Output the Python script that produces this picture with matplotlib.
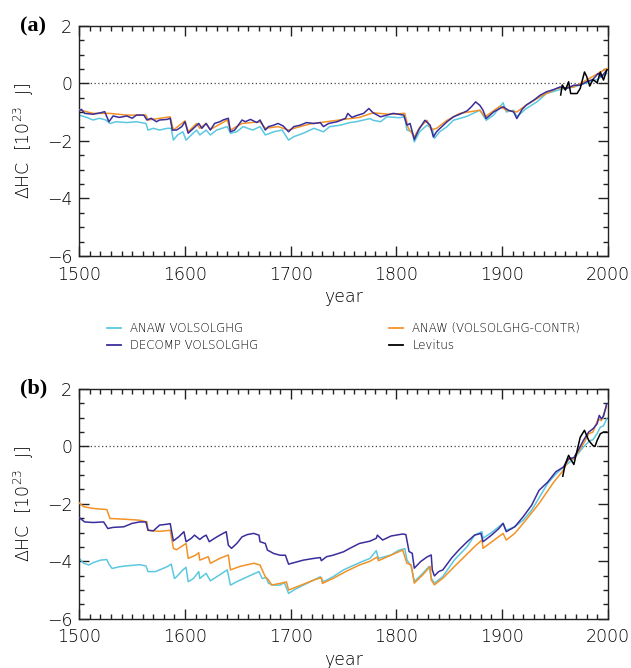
import numpy as np
import matplotlib
matplotlib.use('Agg')
import matplotlib.pyplot as plt
from matplotlib.ticker import MultipleLocator
from matplotlib.lines import Line2D

# ─── data (year, ΔHC in 1e23 J) ─────────────────────────────────────────────
# panel (a)
a_cyan_year = [1500, 1507, 1513, 1519, 1525, 1529, 1535, 1545, 1554, 1563, 1565, 1570, 1576, 1583,
               1587, 1589, 1593, 1598, 1601, 1606, 1611, 1614, 1620, 1624, 1630, 1640, 1643, 1649,
               1655, 1664, 1671, 1676, 1684, 1692, 1698, 1703, 1712, 1722, 1731, 1737, 1747, 1756,
               1762, 1768, 1775, 1778, 1785, 1791, 1803, 1808, 1810, 1815, 1817, 1822, 1829, 1834,
               1836, 1841, 1848, 1854, 1867, 1879, 1885, 1892, 1901, 1904, 1911, 1914, 1923, 1933,
               1942, 1955, 1968, 1980, 1990, 1999]
a_cyan_val = [-1.10, -1.18, -1.27, -1.21, -1.27, -1.39, -1.33, -1.36, -1.33, -1.39, -1.62, -1.56, -1.62, -1.56,
              -1.56, -1.97, -1.79, -1.68, -1.97, -1.79, -1.62, -1.79, -1.62, -1.79, -1.62, -1.50, -1.73, -1.68,
              -1.50, -1.62, -1.50, -1.79, -1.68, -1.62, -1.97, -1.85, -1.73, -1.56, -1.68, -1.50, -1.45, -1.36,
              -1.33, -1.28, -1.22, -1.28, -1.33, -1.16, -1.19, -1.16, -1.62, -1.68, -2.03, -1.68, -1.45, -1.57,
              -1.91, -1.68, -1.50, -1.28, -1.14, -0.93, -1.28, -1.10, -0.67, -0.99, -0.93, -1.16, -0.87, -0.64,
              -0.35, -0.21, -0.12, 0.02, 0.14, 0.35]

a_blue_year = [1500, 1502, 1505, 1513, 1520, 1524, 1528, 1532, 1538, 1545, 1550, 1554, 1561, 1564, 1568,
               1573, 1576, 1583, 1586, 1588, 1592, 1597, 1600, 1603, 1608, 1613, 1616, 1620, 1624, 1628,
               1633, 1636, 1641, 1643, 1647, 1654, 1657, 1662, 1668, 1671, 1676, 1679, 1684, 1688, 1693,
               1698, 1703, 1709, 1715, 1722, 1728, 1731, 1736, 1744, 1752, 1754, 1758, 1762, 1769, 1774,
               1778, 1785, 1791, 1797, 1807, 1810, 1813, 1817, 1821, 1827, 1832, 1835, 1838, 1841, 1848,
               1854, 1860, 1867, 1871, 1875, 1879, 1882, 1885, 1892, 1898, 1901, 1906, 1911, 1914, 1919,
               1923, 1930, 1936, 1942, 1949, 1955, 1961, 1968, 1974, 1980, 1986, 1991, 1994, 1999]
a_blue_val = [-0.95, -0.90, -1.04, -1.07, -1.02, -0.98, -1.33, -1.13, -1.18, -1.13, -1.21, -1.10, -1.10, -1.27, -1.21,
              -1.33, -1.27, -1.25, -1.21, -1.62, -1.62, -1.50, -1.33, -1.73, -1.56, -1.39, -1.56, -1.39, -1.62, -1.39,
              -1.33, -1.27, -1.21, -1.68, -1.62, -1.27, -1.33, -1.25, -1.36, -1.27, -1.62, -1.50, -1.45, -1.39, -1.48,
              -1.68, -1.50, -1.45, -1.36, -1.39, -1.36, -1.50, -1.39, -1.33, -1.21, -1.04, -1.18, -1.12, -1.04, -0.87,
              -1.02, -1.16, -1.10, -1.04, -1.10, -1.45, -1.39, -1.95, -1.62, -1.28, -1.45, -1.86, -1.68, -1.57, -1.33,
              -1.16, -1.07, -0.95, -0.81, -0.64, -0.76, -0.93, -1.22, -0.99, -0.87, -0.81, -0.93, -0.99, -1.22, -0.90,
              -0.75, -0.58, -0.41, -0.29, -0.21, -0.12, -0.17, -0.06, -0.06, 0.06, 0.14, 0.35, 0.23, 0.46]

a_orange_year = [1500, 1513, 1529, 1545, 1563, 1565, 1586, 1589, 1600, 1603, 1611, 1614, 1620, 1624, 1640,
                 1643, 1654, 1671, 1676, 1688, 1698, 1703, 1718, 1734, 1750, 1765, 1778, 1793, 1808, 1811,
                 1817, 1822, 1829, 1833, 1838, 1848, 1860, 1879, 1884, 1898, 1904, 1914, 1923, 1936, 1952,
                 1968, 1980, 1999]
a_orange_val = [-0.92, -1.04, -1.04, -1.10, -1.10, -1.27, -1.16, -1.62, -1.30, -1.68, -1.39, -1.56, -1.39, -1.60, -1.27,
                -1.62, -1.39, -1.33, -1.56, -1.50, -1.62, -1.56, -1.41, -1.33, -1.25, -1.18, -1.02, -1.07, -1.04, -1.53,
                -1.86, -1.53, -1.28, -1.62, -1.56, -1.28, -1.04, -0.93, -1.16, -0.79, -0.93, -0.99, -0.75, -0.46, -0.17,
                -0.12, 0.12, 0.52]

a_lev_year = [1955.5, 1957, 1960, 1963, 1965, 1971, 1974, 1978, 1980, 1983, 1986, 1990, 1993, 1996, 1999]
a_lev_val = [-0.40, -0.05, -0.23, 0.06, -0.35, -0.35, -0.17, 0.40, 0.25, -0.09, 0.14, 0.02, 0.40, 0.12, 0.46]

# panel (b)
b_blue_year = [1500, 1505, 1513, 1523, 1527, 1532, 1542, 1550, 1557, 1563, 1565, 1570, 1576, 1583, 1586,
               1589, 1594, 1599, 1601, 1606, 1609, 1614, 1617, 1620, 1623, 1628, 1633, 1639, 1641, 1644,
               1649, 1654, 1659, 1665, 1670, 1671, 1676, 1678, 1684, 1690, 1695, 1698, 1703, 1712, 1722,
               1728, 1729, 1734, 1740, 1750, 1756, 1765, 1775, 1781, 1782, 1787, 1795, 1806, 1809, 1812,
               1815, 1817, 1823, 1829, 1833, 1834, 1836, 1840, 1844, 1852, 1859, 1867, 1874, 1880, 1882,
               1890, 1897, 1901, 1904, 1912, 1920, 1928, 1935, 1943, 1951, 1958, 1963, 1968, 1972, 1977,
               1982, 1986, 1990, 1992, 1994, 1996, 1999]
b_blue_val = [-2.48, -2.63, -2.65, -2.63, -2.86, -2.82, -2.80, -2.68, -2.63, -2.63, -2.92, -2.94, -2.74, -2.71, -2.69,
              -3.29, -3.15, -2.97, -3.32, -3.20, -3.09, -3.24, -3.15, -3.09, -3.32, -3.20, -3.09, -2.97, -3.44, -3.55,
              -3.38, -3.15, -3.07, -3.03, -3.09, -3.32, -3.38, -3.61, -3.73, -3.79, -3.79, -4.10, -4.05, -3.96, -3.90,
              -3.87, -3.98, -3.84, -3.79, -3.67, -3.55, -3.38, -3.30, -3.20, -3.09, -3.26, -3.12, -3.05, -3.07, -3.66,
              -3.72, -4.24, -4.01, -3.85, -3.78, -4.30, -4.51, -4.36, -4.30, -3.90, -3.61, -3.32, -3.09, -3.03, -3.32,
              -3.09, -2.86, -2.68, -2.97, -2.80, -2.45, -2.05, -1.53, -1.25, -0.88, -0.72, -0.43, -0.39, -0.14, 0.21,
              0.50, 0.61, 0.79, 1.08, 0.96, 1.05, 1.48]

b_cyan_year = [1500, 1504, 1509, 1513, 1520, 1526, 1528, 1531, 1538, 1545, 1557, 1563, 1565, 1572, 1576,
               1583, 1587, 1590, 1592, 1598, 1601, 1603, 1608, 1613, 1614, 1620, 1624, 1630, 1640, 1643,
               1649, 1659, 1670, 1673, 1677, 1679, 1684, 1690, 1694, 1698, 1703, 1712, 1722, 1728, 1731,
               1740, 1750, 1759, 1765, 1775, 1781, 1783, 1795, 1802, 1808, 1810, 1814, 1817, 1825, 1831,
               1833, 1836, 1844, 1855, 1867, 1874, 1881, 1882, 1890, 1901, 1904, 1912, 1920, 1928, 1936,
               1943, 1950, 1958, 1968, 1977, 1983, 1986, 1990, 1993, 1996, 1999]
b_cyan_val = [-3.90, -4.07, -4.13, -4.05, -3.96, -3.94, -4.10, -4.25, -4.19, -4.16, -4.12, -4.16, -4.36, -4.36, -4.30,
              -4.19, -4.10, -4.60, -4.54, -4.30, -4.21, -4.71, -4.60, -4.36, -4.60, -4.42, -4.68, -4.54, -4.30, -4.83,
              -4.71, -4.54, -4.36, -4.60, -4.57, -4.77, -4.83, -4.83, -4.74, -5.12, -5.00, -4.83, -4.65, -4.54, -4.71,
              -4.54, -4.30, -4.15, -4.05, -3.90, -3.63, -3.90, -3.78, -3.62, -3.56, -3.95, -4.18, -4.71, -4.42, -4.18,
              -4.59, -4.76, -4.53, -3.95, -3.49, -3.09, -2.97, -3.20, -3.00, -2.68, -2.92, -2.80, -2.57, -2.22, -1.73,
              -1.30, -1.00, -0.72, -0.43, -0.02, 0.20, 0.23, 0.45, 0.67, 0.72, 0.96]

b_orange_year = [1500, 1504, 1513, 1526, 1529, 1545, 1557, 1564, 1565, 1576, 1586, 1589, 1592, 1601, 1603,
                 1610, 1613, 1614, 1622, 1624, 1633, 1641, 1643, 1652, 1665, 1671, 1673, 1676, 1679, 1682,
                 1690, 1696, 1698, 1710, 1722, 1729, 1730, 1740, 1752, 1765, 1775, 1782, 1783, 1806, 1810,
                 1814, 1817, 1825, 1832, 1833, 1836, 1844, 1855, 1874, 1881, 1882, 1901, 1904, 1912, 1920,
                 1935, 1949, 1958, 1963, 1968, 1977, 1982, 1986, 1991, 1994, 1999]
b_orange_val = [-1.97, -2.10, -2.16, -2.20, -2.51, -2.54, -2.57, -2.63, -2.92, -2.96, -2.92, -3.55, -3.60, -3.38, -3.90,
                -3.79, -3.70, -3.96, -3.84, -4.07, -3.90, -3.78, -4.30, -4.18, -4.07, -4.13, -4.30, -4.54, -4.65, -4.83,
                -4.77, -4.72, -5.00, -4.83, -4.65, -4.57, -4.77, -4.60, -4.36, -4.13, -4.00, -3.85, -3.98, -3.61, -4.07,
                -4.12, -4.76, -4.47, -4.18, -4.65, -4.82, -4.59, -4.18, -3.49, -3.26, -3.55, -3.03, -3.26, -3.03, -2.68,
                -1.99, -1.24, -0.83, -0.45, -0.43, 0.09, 0.44, 0.50, 0.96, 0.90, 1.40]

b_lev_year = [1957.5, 1959, 1960, 1963, 1965, 1968, 1970, 1974, 1978, 1982, 1986, 1988, 1990, 1993, 1996, 1999]
b_lev_val = [-1.04, -0.75, -0.60, -0.31, -0.45, -0.63, -0.30, 0.32, 0.56, 0.21, 0.03, 0.00, 0.21, 0.44, 0.50, 0.50]

labels = ['ANAW VOLSOLGHG', 'DECOMP VOLSOLGHG', 'ANAW (VOLSOLGHG-CONTR)', 'Levitus']
colors = ['#5cc8e0', '#3a2e9c', '#f39225', 'black']

# ─── figure ─────────────────────────────────────────────────────────────────
plt.rcParams['font.family'] = ['DejaVu Sans']
plt.rcParams['font.weight'] = 'light'
plt.rcParams['axes.labelweight'] = 'light'
plt.rcParams['mathtext.fontset'] = 'custom'
plt.rcParams['mathtext.rm'] = 'DejaVu Sans:light'
plt.rcParams['mathtext.it'] = 'DejaVu Sans:light'
fig = plt.figure(figsize=(6.31, 6.68), dpi=100)
ax_a = fig.add_axes([0.1257, 0.6168, 0.8374, 0.3443])
ax_b = fig.add_axes([0.1257, 0.0738, 0.8374, 0.3439])

panels = [
    (ax_a, '(a)', a_cyan_year, a_cyan_val, a_blue_year, a_blue_val,
     a_orange_year, a_orange_val, a_lev_year, a_lev_val),
    (ax_b, '(b)', b_cyan_year, b_cyan_val, b_blue_year, b_blue_val,
     b_orange_year, b_orange_val, b_lev_year, b_lev_val),
]

for ax, tag, cy, cv, by, bv, oy, ov, ly, lv in panels:
    ax.axhline(0, color='#444444', lw=0.9, ls=(0, (1, 2)), zorder=1)
    ax.plot(cy, cv, color=colors[0], lw=1.1, zorder=2)
    ax.plot(oy, ov, color=colors[2], lw=1.1, zorder=3)
    ax.plot(by, bv, color=colors[1], lw=1.1, zorder=4)
    ax.plot(ly, lv, color=colors[3], lw=1.1, zorder=5)

    ax.set_xlim(1500, 2000)
    ax.set_ylim(-6, 2)
    ax.xaxis.set_major_locator(MultipleLocator(100))
    ax.xaxis.set_minor_locator(MultipleLocator(10))
    ax.yaxis.set_major_locator(MultipleLocator(2))
    ax.yaxis.set_minor_locator(MultipleLocator(0.5))
    ax.tick_params(which='both', direction='in', top=True, right=True,
                   width=1.0, color='#222222')
    ax.tick_params(which='major', length=7, labelsize=12.5, pad=7)
    ax.tick_params(axis='y', which='major', pad=5)
    ax.tick_params(which='minor', length=3.5)
    for s in ax.spines.values():
        s.set_linewidth(1.0)
        s.set_color('#222222')
    ax.set_xlabel('year', fontsize=12.5, labelpad=3)
    ax.set_ylabel(r'$\Delta$HC  [10$^{23}$  J]', fontsize=12.5, labelpad=8)
    ax.text(-0.112, 1.0, tag, transform=ax.transAxes, fontsize=16,
            fontweight='bold', family='Liberation Serif', va='center', ha='left')

handles = [Line2D([], [], color=c, lw=1.3) for c in colors]
fig.legend(handles, labels, ncol=2, loc='upper left', bbox_to_anchor=(0.16, 0.527),
           frameon=False, fontsize=8.5, handlelength=1.2, handletextpad=0.8,
           columnspacing=11.0, labelspacing=0.45, borderpad=0)

fig.savefig('out.png', dpi=100)
